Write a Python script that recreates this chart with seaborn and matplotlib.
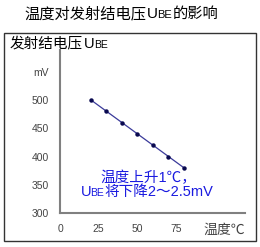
import matplotlib
matplotlib.use("Agg")
import matplotlib.pyplot as plt
import seaborn as sns
import pandas as pd
from matplotlib.transforms import IdentityTransform
from matplotlib.patches import Rectangle

temps = [20, 30, 40, 50, 60, 70, 80]
ube_mv = [500, 480, 460, 440, 420, 400, 380]
x_ticks = [0, 25, 50, 75, 100]
x_tick_labels = ["0", "25", "50", "75", ""]
y_ticks = [300, 350, 400, 450, 500, 550]
y_tick_labels = ["300", "350", "400", "450", "500", "mV"]

sns.set_style("white")
plt.rcParams['font.family'] = ['Liberation Sans', 'Noto Sans CJK SC', 'DejaVu Sans']

W, H = 260, 247
fig = plt.figure(figsize=(W / 100, H / 100), dpi=100)
ax = fig.add_axes([60 / W, (H - 213) / H, 185 / W, 163 / H])

df = pd.DataFrame({"t": temps, "u": ube_mv})
sns.lineplot(data=df, x="t", y="u", ax=ax, color="#3a3a9a", linewidth=0.9,
             marker="o", markersize=3.2, markeredgewidth=0,
             markerfacecolor="#0a0a50")

ax.set_xlim(0, 119.4)
ax.set_ylim(300, 588.5)
ax.set_xticks(x_ticks)
ax.set_xticklabels(x_tick_labels)
ax.set_yticks(y_ticks)
ax.set_yticklabels(y_tick_labels)
ax.set_xlabel("")
ax.set_ylabel("")
for s in ["top", "right"]:
    ax.spines[s].set_visible(False)
for s in ["left", "bottom"]:
    ax.spines[s].set_color("#808080")
    ax.spines[s].set_linewidth(1.5)
ax.tick_params(axis="both", direction="in", length=3, width=1, color="#808080",
               labelsize=7.5, labelcolor="#444444")
ax.tick_params(axis="x", pad=8)
ax.tick_params(axis="y", pad=8)
ax.patch.set_alpha(0)

# outer frame
fig.patches.append(Rectangle((4, H - 241), 252, 208, transform=IdentityTransform(),
                             fill=False, edgecolor="#333333", linewidth=1.0))

renderer = fig.canvas.get_renderer()


def rich(x, y, parts, color="black", ha="left"):
    texts = []
    widths = []
    for s, fs, kern in parts:
        t = fig.text(0, 0, s, fontsize=fs, color=color, transform=IdentityTransform(),
                     va="baseline", ha="left")
        widths.append(t.get_window_extent(renderer).width + kern)
        texts.append(t)
    total = sum(widths)
    cx = x - total / 2 if ha == "center" else x
    for t, w in zip(texts, widths):
        t.set_position((cx, H - y))
        cx += w


rich(121, 18, [("温度对发射结电压", 11, 0.5), ("U", 11, -0.5), ("BE", 8, 0.5), ("的影响", 11, 0)], ha="center")
rich(10, 48, [("发射结电压", 10.5, 0.5), ("U", 10.5, -0.5), ("BE", 7.5, 0)])
rich(148, 182, [("温度上升1℃，", 10.5, 0)], color="#1a1ae0", ha="center")
rich(147, 196, [("U", 10.5, -0.5), ("BE", 7.5, 0.5), ("将下降2～2.5mV", 10.5, 0)], color="#1a1ae0", ha="center")
rich(224, 234, [("温度℃", 10, 0)], color="#444444", ha="center")

fig.savefig("out.png", dpi=100)
